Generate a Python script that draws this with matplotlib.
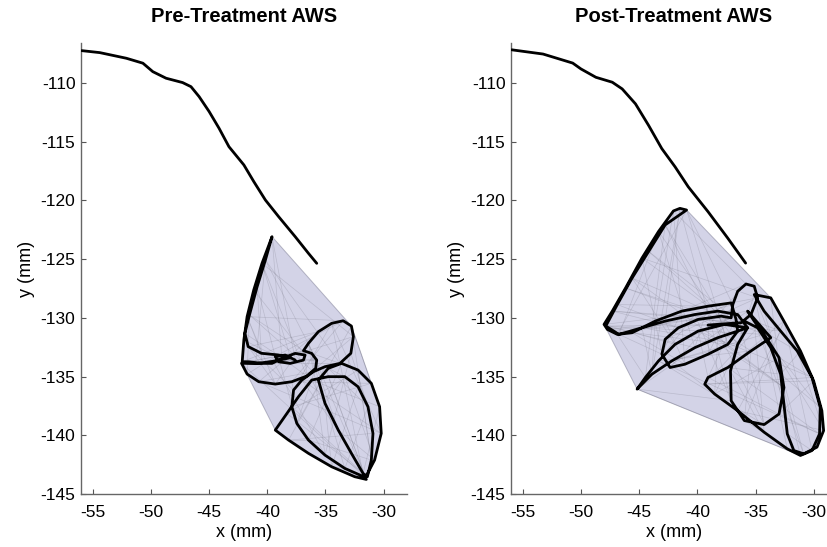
import numpy as np
import matplotlib
matplotlib.use("Agg")
import matplotlib.pyplot as plt

plt.rcParams['font.family'] = ['Liberation Sans', 'DejaVu Sans']
plt.rcParams['axes.unicode_minus'] = False

# Palate trace (mm), shared by both sessions
palate_pre_x = [-55.94, -54.38, -52.10, -50.68, -49.83, -48.69, -47.27, -46.55, -45.85,
                -44.99, -44.14, -43.29, -42.01, -41.15, -40.16, -39.02, -37.60, -36.46, -35.75]
palate_pre_y = [-107.25, -107.42, -107.90, -108.32, -109.04, -109.60, -109.97, -110.32, -111.17,
                -112.44, -113.86, -115.43, -116.98, -118.41, -119.97, -121.39, -123.09, -124.51, -125.36]

palate_post_x = [-55.94, -53.25, -50.70, -49.99, -48.71, -47.30, -46.45, -45.31, -44.18,
                 -43.05, -41.91, -40.78, -39.08, -37.38, -35.85]
palate_post_y = [-107.18, -107.54, -108.31, -108.81, -109.52, -109.94, -110.51, -111.78, -113.62,
                 -115.59, -117.14, -118.84, -120.96, -123.22, -125.34]

# Tongue-tip trajectory, pre-treatment (mm)
tongue_pre_x = [-37.60, -38.45, -39.31, -39.02, -38.03, -36.89, -36.75, -37.60, -38.74, -39.59,
                -40.45, -41.58, -42.15, -42.01, -41.73, -41.16, -40.45, -39.59, -40.16, -40.87,
                -41.53, -41.92, -41.64, -40.50, -39.08, -38.00, -39.50, -41.00, -42.21, -41.73,
                -40.73, -39.31, -37.89, -36.61, -35.84, -35.75,
                -36.18, -36.89, -36.46, -35.61, -34.47, -33.48, -32.77, -32.60, -32.82, -33.76,
                -35.04, -36.04, -37.03, -37.74, -37.89, -37.46, -36.46, -35.04, -33.34, -31.57,
                -30.78, -30.21, -30.35, -31.06, -32.20, -33.62, -34.76, -35.61, -35.04, -33.90,
                -32.77, -31.77, -31.40, -31.06, -30.92, -31.35, -32.20, -33.34, -34.76, -36.18,
                -37.32, -38.31, -39.31, -38.17, -36.46, -34.47, -32.48, -31.49]
tongue_pre_y = [-133.60, -133.17, -133.31, -133.74, -133.88, -133.60, -133.17, -133.03, -133.45, -133.88,
                -133.88, -133.74, -133.74, -131.89, -129.90, -127.63, -125.36, -123.09, -125.08, -127.35,
                -129.76, -131.32, -132.45, -133.02, -133.16, -133.40, -133.70, -133.90, -133.87, -134.79,
                -135.44, -135.64, -135.44, -134.96, -134.30, -133.60,
                -133.03, -132.80, -132.17, -131.18, -130.47, -130.25, -130.70, -131.60, -133.02, -133.88,
                -134.16, -134.59, -135.30, -136.15, -137.57, -138.99, -140.41, -141.69, -142.82, -143.59,
                -142.11, -139.84, -137.57, -135.58, -134.45, -133.88, -134.30, -135.30, -137.28, -139.56,
                -141.54, -143.25, -143.53, -142.11, -139.84, -137.57, -135.87, -135.01, -135.01, -135.30,
                -136.72, -138.14, -139.56, -140.41, -141.54, -142.68, -143.53, -143.76]

# Tongue-tip trajectory, post-treatment (mm)
tongue_post_x = [-39.08, -37.66, -36.24, -35.39, -34.82, -35.11, -35.82, -36.53, -36.95, -37.09,
                 -37.94, -39.93, -41.63, -42.76, -43.04, -42.34, -41.06, -39.08, -37.38, -36.53,
                 -36.67, -37.09, -39.08, -41.34, -43.61, -45.60, -46.87, -47.72, -48.01, -47.30,
                 -46.16, -44.75, -43.33, -42.05, -41.49, -40.92, -42.76, -44.18, -45.60, -46.87,
                 -47.86, -46.73, -44.75, -42.76, -40.21, -38.23, -36.53, -35.68, -38.23, -40.21,
                 -42.19, -43.90, -45.17, -44.46, -43.33, -41.91, -39.93, -37.66, -35.68, -36.53,
                 -37.15, -37.09, -35.96, -34.26, -32.98, -32.56, -32.98, -34.26, -35.11, -35.68,
                 -33.69, -35.39, -37.38, -39.08, -39.36, -38.51, -36.53, -34.26, -32.27, -31.14,
                 -30.15, -29.50, -29.44, -30.15, -31.42, -32.84, -34.26, -35.11, -33.69, -32.56,
                 -31.14, -30.01, -29.30, -29.15, -29.72, -30.86, -31.71, -32.27, -32.56, -32.84,
                 -33.69, -34.82, -35.96]
tongue_post_y = [-130.62, -130.51, -130.42, -129.72, -128.30, -127.31, -127.12, -127.74, -128.87, -130.00,
                 -129.86, -130.14, -130.85, -131.83, -133.10, -134.23, -133.95, -133.10, -132.26, -131.13,
                 -130.14, -128.73, -129.01, -129.43, -130.28, -131.27, -131.41, -130.99, -130.56, -129.43,
                 -127.46, -124.91, -122.65, -120.90, -120.68, -120.82, -122.09, -124.35, -126.61, -128.87,
                 -130.70, -131.41, -130.85, -130.28, -129.72, -129.43, -129.72, -130.85, -131.69, -132.54,
                 -133.67, -134.80, -136.07, -135.08, -133.67, -132.26, -131.13, -130.56, -130.85, -132.26,
                 -134.52, -137.06, -138.75, -139.09, -138.19, -135.93, -133.39, -131.41, -130.28, -129.43,
                 -131.69, -132.82, -134.23, -135.08, -135.65, -136.49, -137.91, -139.74, -141.16, -141.72,
                 -141.30, -139.88, -137.62, -135.08, -132.82, -131.13, -129.43, -128.02, -128.30, -130.28,
                 -132.82, -135.36, -137.91, -139.60, -141.01, -141.58, -141.30, -139.88, -137.34, -134.80,
                 -132.54, -130.85, -130.28]

titles = ["Pre-Treatment AWS", "Post-Treatment AWS"]
x_ticks = [-55, -50, -45, -40, -35, -30]
y_ticks = [-145, -140, -135, -130, -125, -120, -115, -110]

FILL = "#d3d3e7"


def convex_hull(px, py):
    pts = sorted(set(zip(px, py)))

    def cross(o, a, b):
        return (a[0] - o[0]) * (b[1] - o[1]) - (a[1] - o[1]) * (b[0] - o[0])

    lower, upper = [], []
    for p in pts:
        while len(lower) >= 2 and cross(lower[-2], lower[-1], p) <= 0:
            lower.pop()
        lower.append(p)
    for p in reversed(pts):
        while len(upper) >= 2 and cross(upper[-2], upper[-1], p) <= 0:
            upper.pop()
        upper.append(p)
    return np.array(lower[:-1] + upper[:-1])


def draw_panel(ax, title, pal_x, pal_y, tx, ty):
    tx = np.asarray(tx)
    ty = np.asarray(ty)
    hull = convex_hull(tx, ty)
    ax.fill(hull[:, 0], hull[:, 1], color=FILL, zorder=1, lw=0)
    ax.plot(np.r_[hull[:, 0], hull[0, 0]], np.r_[hull[:, 1], hull[0, 1]],
            color="#8a8aa0", lw=0.7, alpha=0.6, zorder=2)

    # web of chords between trajectory samples
    n = len(tx)
    for k in (9, 17, 27):
        for i in range(0, n - k, 2):
            ax.plot([tx[i], tx[i + k]], [ty[i], ty[i + k]],
                    color="#70707e", lw=0.5, alpha=0.25, zorder=2)

    ax.plot(tx, ty, color="black", lw=2.0, solid_joinstyle="round",
            solid_capstyle="round", zorder=3)
    ax.plot(pal_x, pal_y, color="black", lw=2.0, solid_joinstyle="round",
            solid_capstyle="round", zorder=3)

    ax.set_xlim(-56, -28)
    ax.set_ylim(-145, -106.6)
    ax.set_xticks(x_ticks)
    ax.set_yticks(y_ticks)
    ax.tick_params(direction="in", length=3.5, width=0.8, labelsize=12.5,
                   color="#555555")
    ax.tick_params(axis="x", pad=8)
    ax.tick_params(axis="y", pad=4)
    for s in ("top", "right"):
        ax.spines[s].set_visible(False)
    for s in ("left", "bottom"):
        ax.spines[s].set_color("#666666")
        ax.spines[s].set_linewidth(1.0)
    ax.set_xlabel("x (mm)", fontsize=13, labelpad=3)
    ax.set_ylabel("y (mm)", fontsize=13, labelpad=4)
    ax.set_title(title, fontsize=14.5, fontweight="bold", pad=15)


fig = plt.figure(figsize=(8.27, 5.47), dpi=100)
ax1 = fig.add_axes([0.0979, 0.0969, 0.3942, 0.8245])
ax2 = fig.add_axes([0.6179, 0.0969, 0.3942, 0.8245])

draw_panel(ax1, titles[0], palate_pre_x, palate_pre_y, tongue_pre_x, tongue_pre_y)
draw_panel(ax2, titles[1], palate_post_x, palate_post_y, tongue_post_x, tongue_post_y)

fig.savefig("out.png", dpi=100)
